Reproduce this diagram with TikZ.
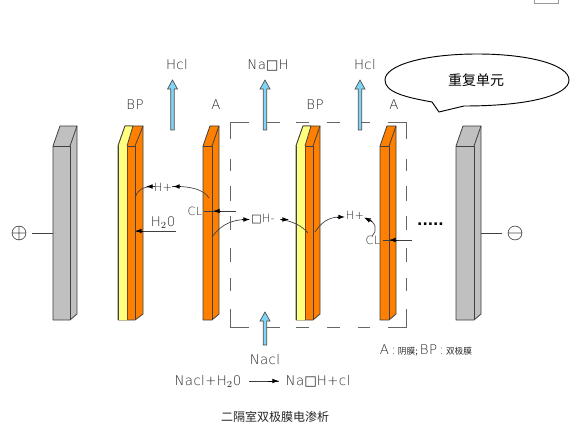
\documentclass[tikz,border=0pt]{standalone}
\usepackage{fontspec}
\setmainfont{DejaVu Sans ExtraLight}[LetterSpace=3]
\newfontfamily\boxfont{DejaVu Sans}
\newfontfamily\cjk{Noto Sans CJK SC}
\usetikzlibrary{arrows.meta}
\definecolor{memo}{RGB}{255,128,0}
\definecolor{memy}{RGB}{255,255,128}
\definecolor{memg}{RGB}{192,192,192}
\definecolor{memb}{RGB}{128,212,244}
\definecolor{txt}{RGB}{40,40,40}
\newcommand{\ohbox}{{\boxfont □}}
\tikzset{
 x=0.75pt,y=-0.75pt,
 edge/.style={draw=black!75,line width=0.6pt,line join=round},
 lab/.style={inner sep=0pt,text=txt,font=\fontsize{10}{11}\selectfont},
 ion/.style={inner sep=0pt,text=txt,font=\fontsize{8.5}{10}\selectfont},
 cjklab/.style={inner sep=0pt,text=black!85,font=\cjk\fontsize{9}{10}\selectfont},
 flow/.style={draw=black!70,line width=0.5pt,fill=memb},
 wire/.style={draw=black!75,line width=0.5pt},
 tip/.style={draw=black,line width=0.7pt,-{Latex[length=5pt,width=3.6pt]}},
 dashseg/.style={draw=black!60,line width=0.7pt}
}
\newcommand{\plate}[4]{%
 \fill[#4] (#1+7,126) -- (#3,126) -- (#3,314) -- (#2,320) -- (#1,320) -- (#1,146) -- cycle;
 \draw[edge] (#1,146) -- (#1+7,126) -- (#3,126) -- (#3,314) -- (#2,320) -- (#1,320) -- cycle;
 \draw[edge] (#1,146) -- (#2,146) -- (#2,320);
 \draw[edge] (#2,146) -- (#3,126);
}
\newcommand{\yellowface}[1]{%
 \fill[memy] (#1,146) -- (#1+7,126) -- (#1+15,126) -- (#1+9,146) -- (#1+9,320) -- (#1,320) -- cycle;
 \draw[edge] (#1,146) -- (#1+7,126) -- (#1+15,126) -- (#1+9,146);
 \draw[edge] (#1,146) -- (#1,320);
 \draw[draw=black!50!memo,line width=0.6pt] (#1+9,146) -- (#1+9,320);
}
\newcommand{\uparr}[3]{%
 \draw[flow] (#1-1.7,#3) -- (#1-1.7,#2+9) -- (#1-5,#2+9) -- (#1,#2) -- (#1+5,#2+9) -- (#1+1.7,#2+9) -- (#1+1.7,#3) -- cycle;
}
\begin{document}
\begin{tikzpicture}
\useasboundingbox (0,0) rectangle (582,431);
\fill[white] (0,0) rectangle (582,431);
% plates
\plate{53}{70}{77}{memg}
\plate{456}{474}{481}{memg}
\plate{118}{135}{143}{memo}
\yellowface{118}
\plate{203}{212}{219}{memo}
\plate{296}{313}{320}{memo}
\yellowface{296}
\plate{380}{389}{396}{memo}
% dashed repeating unit
\draw[dashseg] (249,122) -- (230.5,122) -- (230.5,139);
\draw[dashseg] (388,122) -- (406,122) -- (406,139);
\draw[dashseg] (249,327) -- (230.5,327) -- (230.5,309);
\draw[dashseg] (388,327) -- (406,327) -- (406,309);
\foreach \a/\b in {267/280,296/309,327/340,358/370}{
 \draw[dashseg] (\a,122) -- (\b,122);
 \draw[dashseg] (\a,327) -- (\b,327);
}
\foreach \a/\b in {159/171,186/201,216/230,248/262,278/291}{
 \draw[dashseg] (230.5,\a) -- (230.5,\b);
 \draw[dashseg] (406,\a) -- (406,\b);
}
% flows
\uparr{172.5}{80}{130}
\uparr{265}{80}{130}
\uparr{360}{80}{130}
\uparr{265}{312}{345}
% labels
\node[lab] (hcl1) at (177,65) {Hcl};
\node[lab] (naoh) at (268,65) {Na\ohbox H};
\node[lab] (hcl2) at (365,65) {Hcl};
\node[lab] (bp1) at (135,105) {BP};
\node[lab] (a1) at (216,105) {A};
\node[lab] (bp2) at (315,105) {BP};
\node[lab] (a2) at (394,105) {A};
\node[lab] (nacl) at (265,360) {Nacl};
\node[lab] (eq1) at (208,381) {Nacl+H$_2$0};
\coordinate (eqa) at (249,381); \coordinate (eqb) at (279,381);
\draw[wire] (eqa) -- (eqb);
\draw[tip] (268,381) -- (eqb);
\node[lab] (eq2) at (318,381) {Na\ohbox H+cl};
\node[cjklab] (cap) at (275,417) {二隔室双极膜电渗析};
\node[lab] (legend) at (426,350) {A\,:\,{\cjk\fontsize{6.5}{7}\selectfont 阴膜;}\,BP\,:\,{\cjk\fontsize{6.5}{7}\selectfont 双极膜}};
% electrode symbols
\node[inner sep=0pt] (plus) at (19,233) {\tikz[x=1pt,y=1pt]{\draw[black!70,line width=0.5pt] (0,0) circle (5.2pt) (-5.2,0)--(5.2,0) (0,-5.2)--(0,5.2);}};
\node[inner sep=0pt] (minus) at (515,233) {\tikz[x=1pt,y=1pt]{\draw[black!70,line width=0.5pt] (0,0) circle (5.2pt) (-5.2,0)--(5.2,0);}};
\coordinate (pl) at (53,233); \coordinate (pw) at (32,233);
\coordinate (mr) at (481,233); \coordinate (mw) at (502,233);
\draw[wire] (pw) -- (pl);
\draw[wire] (mr) -- (mw);
% dots
\node[inner sep=0pt,font=\boxfont\bfseries\fontsize{10.5}{11}\selectfont] (dots) at (430.5,224.5) {.....};
% left ions
\node[ion] (hp1) at (163,187) {H+};
\draw[wire] (135,198) .. controls (137,191) and (141,186.5) .. (155,186.5);
\draw[tip] (153,186.5) -- (146,186.5);
\draw[wire] (209,198) .. controls (204,190) and (192,186) .. (172,186.5);
\draw[tip] (181,186.5) -- (173,186.5);
\node[ion] (cl1) at (195,211) {CL};
\coordinate (cl1e) at (236,211); \coordinate (cl1s) at (204,211);
\draw[wire] (cl1e) -- (cl1s);
\draw[tip] (221,211) -- (213,211);
\node[lab] (h2o) at (163,223) {H$_2$0};
\coordinate (h2oe) at (176,231);
\draw[wire] (h2oe) -- (135,231);
\draw[tip] (143,231) -- (135,231);
% centre
\node[ion] (oh) at (263,219.5) {\ohbox H-};
\draw[wire] (212,237) .. controls (220,226) and (230,220) .. (245,219.5);
\draw[tip] (242,219.5) -- (250,219.5);
\draw[wire] (280,219.5) .. controls (293,221) and (302,226) .. (308,233);
\draw[tip] (281,219.5) -- (289,219.5);
% right ions
\node[ion] (hp2) at (355,215) {H+};
\draw[wire] (315,232) .. controls (321,223) and (328,217) .. (340,217);
\draw[tip] (337,217) -- (345,217);
\draw[wire] (366,218) .. controls (376,222) and (378,230) .. (372,236);
\draw[tip] (372,221.5) -- (364,217.5);
\node[ion] (cl2) at (373,240) {CL};
\coordinate (cl2e) at (412,240); \coordinate (cl2s) at (383,240);
\draw[wire] (cl2e) -- (cl2s);
\draw[tip] (397,240) -- (389,240);
% callout
\draw[black,line width=0.7pt,fill=white]
 (432,102) .. controls (404,97) and (385,92) .. (385,80) .. controls (385,65) and (425,54) .. (477,54)
 .. controls (530,54) and (569,65) .. (569,80) .. controls (569,95) and (530,106) .. (464,106)
 -- (439,112) -- cycle;
\node[cjklab,text=black,font=\cjk\fontsize{10.5}{11}\selectfont] (rep) at (476,80) {重复单元};
% corner mark
\draw[black!40,line width=0.4pt] (534,0) -- (534,3) -- (558,3) -- (558,0);
\end{tikzpicture}
\end{document}
